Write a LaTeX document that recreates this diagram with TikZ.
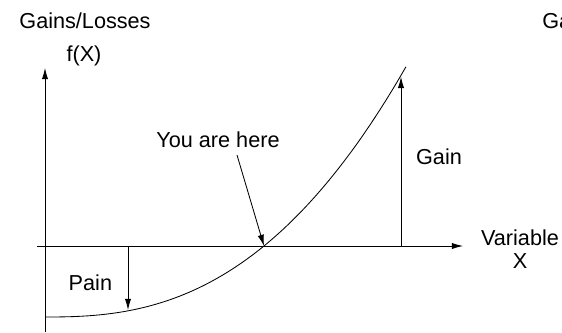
\documentclass[tikz,border=0pt]{standalone}
\usepackage{fontspec}
\setmainfont{Liberation Sans}
\usetikzlibrary{arrows.meta}

\begin{document}
\begin{tikzpicture}[
    lbl/.style={font=\fontsize{15.4}{16.4}\selectfont, inner sep=0pt},
    axis/.style={line width=0.6pt, -{Latex[length=8pt,width=4.5pt]}},
    pointer/.style={line width=0.6pt, -{Latex[length=8pt,width=4.5pt]}}]
  \useasboundingbox (0,0) rectangle (14.05,8.3);

  % Axes
  \coordinate (ybot) at (1.125,0);
  \coordinate (ytop) at (1.125,6.6);
  \coordinate (xleft) at (0.925,2.15);
  \coordinate (xright) at (11.575,2.15);
  \draw[axis] (ybot) -- (ytop);
  \draw[axis] (xleft) -- (xright);

  % Axis labels
  \node[lbl, anchor=base] (ytitle) at (2.125, 7.6) {Gains/Losses};
  \node[lbl, anchor=base] (yvar) at (2.1, 6.775) {f(X)};
  \node[lbl, align=center] (xtitle) at (13.0, 2.06) {Variable\\X};
  \node[lbl, anchor=base west] (ytitle2) at (13.55, 7.6) {Gains/Losses};

  % Curve f(X)
  \draw[line width=0.6pt, samples=60, domain=0.01:9.025]
    plot ({1.125+\x}, {0.375+0.02448*(\x)^2.52});

  % Points on the curve
  \coordinate (here) at (6.6,2.15);
  \coordinate (gainfoot) at (10.025,2.15);
  \coordinate (gaintop) at (10.025,6.38);
  \coordinate (painfoot) at (3.2,2.15);
  \coordinate (painbot) at (3.2,0.55);

  % You are here
  \node[lbl] (youlbl) at (5.45, 4.8) {You are here};
  \coordinate (youstart) at (5.925,4.425);
  \draw[pointer] (youstart) -- (here);

  % Gain and pain
  \draw[pointer] (gainfoot) -- (gaintop);
  \node[lbl] (gainlbl) at (10.975, 4.375) {Gain};
  \draw[pointer] (painfoot) -- (painbot);
  \node[lbl] (painlbl) at (2.26, 1.225) {Pain};
\end{tikzpicture}
\end{document}
